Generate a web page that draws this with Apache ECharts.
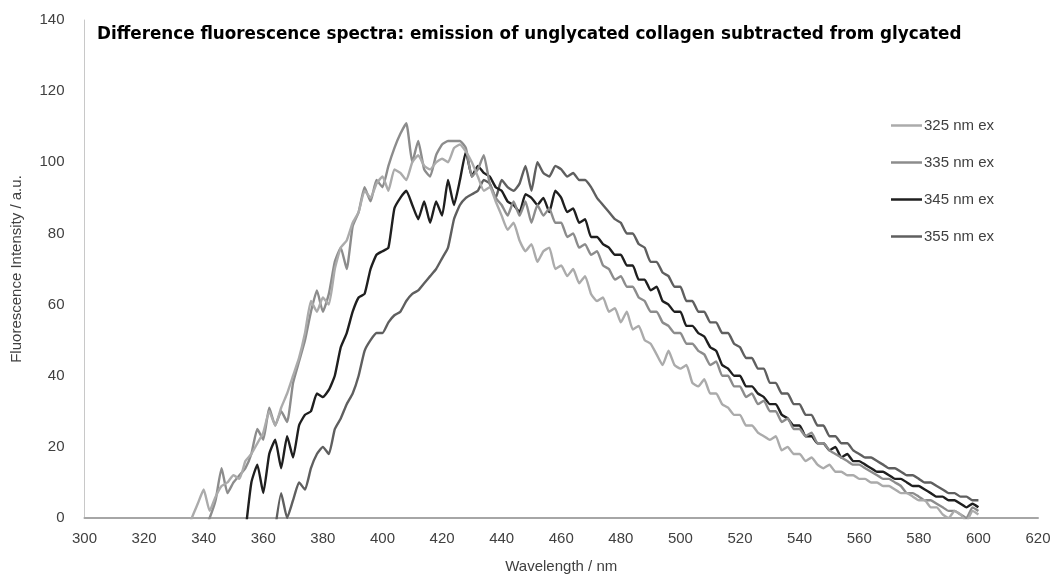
<!DOCTYPE html>
<html>
<head>
<meta charset="utf-8">
<script src="https://cdn.jsdelivr.net/npm/echarts@6/dist/echarts.min.js"></script>
<style>html,body{margin:0;padding:0;background:#fff}#c{width:1055px;height:583px}</style>
</head>
<body>
<div id="c"></div>
<script>
const titleText = 'Difference fluorescence spectra: emission of unglycated collagen subtracted from glycated';
const seriesNames = ['325 nm ex', '335 nm ex', '345 nm ex', '355 nm ex'];
const xTicks = [300,320,340,360,380,400,420,440,460,480,500,520,540,560,580,600,620];
const yTicks = [0,20,40,60,80,100,120,140];

const wavelengths = [
  334,336,338,340,342,344,346,348,350,352,
  354,356,358,360,362,364,366,368,370,372,
  374,376,378,380,382,384,386,388,390,392,
  394,396,398,400,402,404,406,408,410,412,
  414,416,418,420,422,424,426,428,430,432,
  434,436,438,440,442,444,446,448,450,452,
  454,456,458,460,462,464,466,468,470,472,
  474,476,478,480,482,484,486,488,490,492,
  494,496,498,500,502,504,506,508,510,512,
  514,516,518,520,522,524,526,528,530,532,
  534,536,538,540,542,544,546,548,550,552,
  554,556,558,560,562,564,566,568,570,572,
  574,576,578,580,582,584,586,588,590,592,
  594,596,598,600
];

const ex325 = [
  -6,0,4,8,2,6,9,10,12,11,
  16,18,21,24,30,26,31,35,40,45,
  52,61,58,62,60,70,76,78,83,86,
  92,90,94,96,92,98,97,95,100,102,
  99,98,100,101,100,104,105,103,100,96,
  92,93,89,85,81,83,78,75,77,72,
  75,76,70,71,68,70,66,68,63,61,
  62,58,59,55,58,53,54,50,49,46,
  43,47,43,42,43,38,37,39,35,35,
  32,31,29,29,26,26,24,23,22,23,
  19,20,18,18,16,17,15,14,15,13,
  13,12,12,11,11,10,10,9,9,8,
  7,7,6,5,5,3,3,1,0,2,
  1,-1,2,1
];

const ex335 = [
  null,null,null,-4,0,5,14,7,10,12,
  14,18,25,22,31,26,30,27,38,44,
  50,58,64,58,63,72,76,70,82,86,
  93,89,95,93,99,104,108,111,100,106,
  98,96,102,105,106,106,106,104,96,98,
  102,94,90,88,85,89,85,89,83,88,
  85,87,83,83,79,80,76,77,74,75,
  71,70,67,68,65,65,62,61,58,58,
  55,54,52,52,49,49,47,46,43,44,
  40,40,37,37,34,35,32,33,30,30,
  27,28,25,25,23,24,21,21,19,18,
  17,16,15,15,14,13,12,11,11,10,
  9,7,7,6,5,5,4,3,2,2,
  1,0,3,2
];

const ex345 = [
  null,null,null,null,null,null,null,null,null,null,
  -4,10,15,7,18,22,14,23,17,26,
  29,30,35,34,36,40,48,52,58,62,
  63,70,74,75,76,87,90,92,88,84,
  89,83,89,85,95,88,95,103,96,99,
  97,96,93,92,89,88,86,91,90,88,
  90,86,92,90,86,87,83,84,79,79,
  77,76,74,74,71,71,67,67,64,65,
  61,60,58,58,54,54,52,51,48,47,
  43,42,40,40,37,37,35,34,32,32,
  29,28,26,26,23,23,21,21,19,20,
  17,18,16,16,15,14,13,13,12,11,
  11,10,9,9,8,7,6,6,5,5,
  4,3,4,3
];

const ex355 = [
  null,null,null,null,null,null,null,null,null,null,
  null,null,null,null,null,-3,7,0,5,10,
  8,14,18,20,18,25,28,32,35,40,
  47,50,52,52,55,57,58,61,63,64,
  66,68,70,73,76,84,88,90,91,92,
  95,94,90,95,93,92,94,99,92,100,
  97,96,99,98,96,97,95,95,93,90,
  88,86,84,83,80,80,77,76,72,72,
  69,68,65,65,61,61,58,58,55,55,
  52,52,49,48,45,45,42,42,38,38,
  35,35,32,32,29,29,26,26,23,23,
  21,21,19,18,17,17,16,15,14,14,
  13,12,12,11,10,10,9,8,7,7,
  6,6,5,5
];

const colors = ['#ababab', '#8c8c8c', '#1f1f1f', '#5f5f5f'];
const allSeries = [ex325, ex335, ex345, ex355];

function pairs(vals) {
  return wavelengths.map((w, i) => [w, vals[i]]);
}

const chart = echarts.init(document.getElementById('c'), null, {renderer: 'canvas'});
const fontFam = '"Liberation Sans", Arial, sans-serif';
chart.setOption({
  animation: false,
  backgroundColor: '#ffffff',
  title: {
    text: titleText,
    left: 92, top: 21,
    textStyle: {fontFamily: '"DejaVu Sans", sans-serif', fontWeight: 'bold', fontSize: 16.8, color: '#000'}
  },
  legend: {
    orient: 'vertical',
    left: 886, top: 113,
    icon: 'rect',
    itemWidth: 31, itemHeight: 2.5, itemGap: 22,
    textStyle: {fontFamily: fontFam, fontSize: 15, color: '#404040', padding: [0,0,0,-3]},
    data: seriesNames
  },
  grid: {left: 84.5, right: 17, top: 20, bottom: 65, containLabel: false},
  xAxis: {
    type: 'value', min: 300, max: 620, interval: 20,
    name: 'Wavelength / nm', nameLocation: 'middle', nameGap: 41,
    nameTextStyle: {fontFamily: fontFam, fontSize: 15, color: '#404040'},
    axisLine: {show: true, lineStyle: {color: '#a6a6a6', width: 2}},
    axisTick: {show: false},
    splitLine: {show: false},
    axisLabel: {fontFamily: fontFam, fontSize: 15, color: '#404040', margin: 13,
      formatter: v => xTicks.includes(v) ? String(v) : ''}
  },
  yAxis: {
    type: 'value', min: 0, max: 140, interval: 20,
    name: 'Fluorescence Intensity / a.u.', nameLocation: 'middle', nameGap: 60, nameRotate: 90,
    nameTextStyle: {fontFamily: fontFam, fontSize: 15, color: '#404040'},
    axisLine: {show: true, lineStyle: {color: '#c8c8c8', width: 1}},
    axisTick: {show: false},
    splitLine: {show: false},
    axisLabel: {fontFamily: fontFam, fontSize: 15, color: '#404040', margin: 20,
      formatter: v => yTicks.includes(v) ? String(v) : ''}
  },
  series: seriesNames.map((n, k) => ({
    name: n, type: 'line', data: pairs(allSeries[k]),
    symbol: 'none', smooth: 0.15, clip: true, connectNulls: false,
    lineStyle: {color: colors[k], width: 2.4},
    itemStyle: {color: colors[k]}, z: 10 - k
  }))
});
</script>
</body>
</html>
